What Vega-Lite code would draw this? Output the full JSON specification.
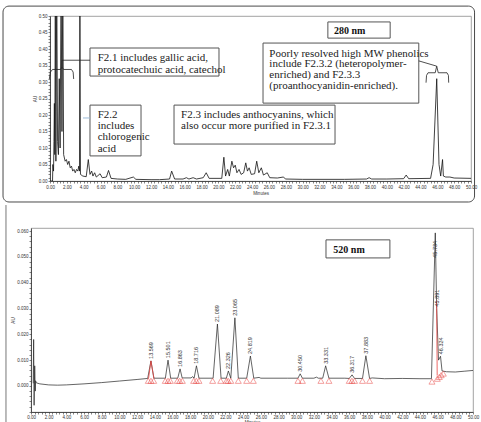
{
  "$schema": "https://vega.github.io/schema/vega-lite/v6.json",
  "padding": {"left": 2, "top": 5, "right": 0, "bottom": 0},
  "spacing": 1,
  "background": "white",
  "config": {
    "view": {"stroke": "#8c8c8c", "strokeWidth": 0.8},
    "axis": {
      "labelFont": "Liberation Sans", "labelFontSize": 4.5, "labelColor": "#333",
      "tickColor": "#333", "tickSize": 2, "tickWidth": 0.6,
      "domainColor": "#333", "domainWidth": 0.8, "grid": false,
      "titleFont": "Liberation Sans", "titleFontSize": 4.5, "titleFontWeight": "normal", "titleColor": "#333",
      "labelPadding": 1, "zindex": 1, "labelOverlap": false, "labelFlush": false
    }
  },
  "datasets": {
    "top": [
      {"t":0,"v":0},{"t":0.3,"v":0},{"t":0.34,"v":0.05},{"t":0.42,"v":0.03},{"t":0.47,"v":0.12},{"t":0.52,"v":0.235},{"t":0.57,"v":0.08},{"t":0.63,"v":0.6},{"t":0.7,"v":0.06},{"t":0.8,"v":0.6},{"t":0.9,"v":0.12},{"t":1.0,"v":0.08},{"t":1.1,"v":0.31},{"t":1.2,"v":0.1},{"t":1.32,"v":0.6},{"t":1.42,"v":0.15},{"t":1.52,"v":0.6},{"t":1.62,"v":0.08},{"t":1.8,"v":0.06},{"t":1.95,"v":0.065},{"t":2.1,"v":0.05},{"t":2.25,"v":0.06},{"t":2.4,"v":0.04},{"t":2.55,"v":0.045},{"t":2.7,"v":0.03},{"t":2.85,"v":0.035},{"t":3.0,"v":0.025},{"t":3.15,"v":0.035},{"t":3.3,"v":0.03},{"t":3.42,"v":0.045},{"t":3.5,"v":0.03},{"t":3.55,"v":0.6},{"t":3.62,"v":0.02},{"t":3.9,"v":0.015},{"t":4.3,"v":0.013},{"t":4.55,"v":0.065},{"t":4.75,"v":0.02},{"t":4.95,"v":0.03},{"t":5.1,"v":0.015},{"t":5.3,"v":0.025},{"t":5.5,"v":0.012},{"t":5.95,"v":0.022},{"t":6.2,"v":0.01},{"t":6.7,"v":0.012},{"t":6.95,"v":0.032},{"t":7.25,"v":0.008},{"t":8,"v":0.006},{"t":9,"v":0.005},{"t":9.9,"v":0.012},{"t":10.2,"v":0.005},{"t":12,"v":0.004},{"t":13,"v":0.004},{"t":14.2,"v":0.006},{"t":14.45,"v":0.03},{"t":14.8,"v":0.006},{"t":15.8,"v":0.006},{"t":16.2,"v":0.01},{"t":16.5,"v":0.006},{"t":17,"v":0.01},{"t":17.4,"v":0.006},{"t":18.2,"v":0.01},{"t":18.55,"v":0.025},{"t":18.9,"v":0.008},{"t":20.4,"v":0.008},{"t":20.65,"v":0.072},{"t":20.85,"v":0.015},{"t":21.1,"v":0.035},{"t":21.3,"v":0.015},{"t":21.6,"v":0.06},{"t":21.8,"v":0.04},{"t":22,"v":0.048},{"t":22.2,"v":0.025},{"t":22.45,"v":0.035},{"t":22.7,"v":0.02},{"t":23,"v":0.025},{"t":23.25,"v":0.055},{"t":23.45,"v":0.03},{"t":23.65,"v":0.04},{"t":23.9,"v":0.02},{"t":24.3,"v":0.022},{"t":24.55,"v":0.06},{"t":24.8,"v":0.025},{"t":25.1,"v":0.04},{"t":25.35,"v":0.018},{"t":25.8,"v":0.025},{"t":26.1,"v":0.01},{"t":27,"v":0.009},{"t":27.7,"v":0.012},{"t":28,"v":0.006},{"t":30,"v":0.005},{"t":35,"v":0.005},{"t":37.6,"v":0.006},{"t":37.9,"v":0.01},{"t":38.2,"v":0.006},{"t":40,"v":0.006},{"t":42,"v":0.007},{"t":42.3,"v":0.018},{"t":42.6,"v":0.007},{"t":45.2,"v":0.008},{"t":45.5,"v":0.05},{"t":45.93,"v":0.31},{"t":46.2,"v":0.05},{"t":46.4,"v":0.015},{"t":46.62,"v":0.065},{"t":46.72,"v":0.015},{"t":47,"v":0.012},{"t":47.5,"v":0.012},{"t":48,"v":0.009},{"t":50,"v":0.008}
    ],
    "topFrame": [{"t":-5.58,"t2":50.42,"v":0.530,"v2":-0.0636}],
    "topBoxes": [
      {"t":4.75,"t2":20.07,"v":0.403,"v2":0.318},
      {"t":4.75,"t2":10.81,"v":0.230,"v2":0.076},
      {"t":14.73,"t2":33.85,"v":0.230,"v2":0.112},
      {"t":33.0,"t2":40.4,"v":0.482,"v2":0.433},
      {"t":25.3,"t2":43.8,"v":0.418,"v2":0.236}
    ],
    "topTexts": [
      {"t":5.66,"v":0.365,"txt":"F2.1 includes gallic acid,\nprotocatechuic acid, catechol","g":"a"},
      {"t":5.66,"v":0.192,"txt":"F2.2\nincludes\nchlorogenic\nacid","g":"b"},
      {"t":15.56,"v":0.191,"txt":"F2.3 includes anthocyanins, which\nalso occur more purified in F2.3.1","g":"b"},
      {"t":26.05,"v":0.377,"txt":"Poorly resolved high MW phenolics\ninclude F2.3.2 (heteropolymer-\nenriched) and F2.3.3\n(proanthocyanidin-enriched).","g":"c"},
      {"t":33.73,"v":0.445,"txt":"280 nm","g":"d"}
    ],
    "braces": [
      {"t":-0.08,"v":0.309,"id":"b1","o":0},{"t":0.05,"v":0.330,"id":"b1","o":1},{"t":0.3,"v":0.338,"id":"b1","o":2},{"t":1.25,"v":0.338,"id":"b1","o":3},{"t":1.43,"v":0.345,"id":"b1","o":4},{"t":1.61,"v":0.338,"id":"b1","o":5},{"t":2.55,"v":0.338,"id":"b1","o":6},{"t":2.75,"v":0.330,"id":"b1","o":7},{"t":2.81,"v":0.309,"id":"b1","o":8},
      {"t":1.43,"v":0.345,"id":"c1","o":0},{"t":1.43,"v":0.366,"id":"c1","o":1},{"t":4.75,"v":0.366,"id":"c1","o":2},
      {"t":44.66,"v":0.298,"id":"b2","o":0},{"t":44.72,"v":0.320,"id":"b2","o":1},{"t":44.9,"v":0.328,"id":"b2","o":2},{"t":45.75,"v":0.328,"id":"b2","o":3},{"t":45.93,"v":0.348,"id":"b2","o":4},{"t":46.11,"v":0.328,"id":"b2","o":5},{"t":47.15,"v":0.328,"id":"b2","o":6},{"t":47.32,"v":0.320,"id":"b2","o":7},{"t":47.35,"v":0.298,"id":"b2","o":8},
      {"t":45.93,"v":0.348,"id":"c2","o":0},{"t":43.8,"v":0.364,"id":"c2","o":1}
    ],
    "blueLine": [{"t":3.92,"v":0.191},{"t":4.75,"v":0.191}],
    "bot": [
      {"t":0.25,"v":0.001},{"t":0.3,"v":0.018},{"t":0.35,"v":-0.0075},{"t":0.42,"v":0.0078},{"t":0.48,"v":-0.002},{"t":0.52,"v":0.002},{"t":0.6,"v":0.0012},{"t":1.0,"v":0.0008},{"t":2.0,"v":0.0004},{"t":3.0,"v":0.0003},{"t":4.0,"v":0.0004},{"t":6.0,"v":0.0008},{"t":8.0,"v":0.0013},{"t":10.0,"v":0.0019},{"t":12.0,"v":0.0025},{"t":13.2,"v":0.0029},{"t":13.569,"v":0.0097},{"t":13.9,"v":0.003},{"t":15.2,"v":0.003},{"t":15.501,"v":0.0100},{"t":15.8,"v":0.003},{"t":16.6,"v":0.003},{"t":16.863,"v":0.0066},{"t":17.1,"v":0.0031},{"t":18.1,"v":0.0031},{"t":18.3,"v":0.0036},{"t":18.45,"v":0.003},{"t":18.716,"v":0.0078},{"t":19.0,"v":0.003},{"t":20.6,"v":0.003},{"t":21.089,"v":0.024},{"t":21.5,"v":0.003},{"t":22.1,"v":0.003},{"t":22.326,"v":0.0058},{"t":22.6,"v":0.003},{"t":23.065,"v":0.0264},{"t":23.45,"v":0.003},{"t":24.4,"v":0.003},{"t":24.819,"v":0.0116},{"t":25.2,"v":0.003},{"t":25.8,"v":0.0033},{"t":26.0,"v":0.003},{"t":29.0,"v":0.003},{"t":30.2,"v":0.003},{"t":30.45,"v":0.0047},{"t":30.7,"v":0.003},{"t":32.0,"v":0.003},{"t":32.3,"v":0.0034},{"t":32.5,"v":0.003},{"t":33.0,"v":0.003},{"t":33.331,"v":0.0078},{"t":33.7,"v":0.003},{"t":35.5,"v":0.003},{"t":36.0,"v":0.0029},{"t":36.317,"v":0.0043},{"t":36.6,"v":0.0029},{"t":37.5,"v":0.0029},{"t":37.883,"v":0.0117},{"t":38.3,"v":0.0029},{"t":38.6,"v":0.0031},{"t":40.0,"v":0.0028},{"t":42.0,"v":0.0029},{"t":44.0,"v":0.0028},{"t":45.3,"v":0.0028},{"t":45.734,"v":0.0593},{"t":45.891,"v":0.030},{"t":46.1,"v":0.010},{"t":46.324,"v":0.0115},{"t":46.5,"v":0.0058},{"t":47.0,"v":0.0055},{"t":48.0,"v":0.0054},{"t":49.0,"v":0.0057},{"t":50.0,"v":0.006}
    ],
    "botRed": [
      {"t":13.3,"v":0.0029,"s":"a"},{"t":13.569,"v":0.0097,"s":"a"},{"t":13.9,"v":0.003,"s":"a"},
      {"t":45.86,"v":0.033,"s":"b"},{"t":45.891,"v":0.030,"s":"b"},{"t":45.95,"v":0.004,"s":"b"}
    ],
    "tri": [
      {"t":13.27,"v":0.002},{"t":13.57,"v":0.002},{"t":13.88,"v":0.002},{"t":15.19,"v":0.002},{"t":15.5,"v":0.002},{"t":15.76,"v":0.002},{"t":16.55,"v":0.002},{"t":16.82,"v":0.002},{"t":17.12,"v":0.002},{"t":18.4,"v":0.002},{"t":18.7,"v":0.002},{"t":19.0,"v":0.002},{"t":20.55,"v":0.002},{"t":21.46,"v":0.002},{"t":22.1,"v":0.002},{"t":22.3,"v":0.002},{"t":22.6,"v":0.002},{"t":23.45,"v":0.002},{"t":24.4,"v":0.002},{"t":25.15,"v":0.002},{"t":30.2,"v":0.002},{"t":30.7,"v":0.002},{"t":32.8,"v":0.002},{"t":33.7,"v":0.002},{"t":36.0,"v":0.002},{"t":36.3,"v":0.002},{"t":36.6,"v":0.002},{"t":37.5,"v":0.002},{"t":38.3,"v":0.002},{"t":45.36,"v":0.0017},{"t":45.96,"v":0.0028},{"t":46.19,"v":0.0035},{"t":46.4,"v":0.0042},{"t":46.64,"v":0.0048}
    ],
    "peaks": [
      {"t":13.569,"v":0.0097},{"t":15.501,"v":0.0100},{"t":16.863,"v":0.0066},{"t":18.716,"v":0.0078},{"t":21.089,"v":0.024},{"t":22.326,"v":0.0058},{"t":23.065,"v":0.0264},{"t":24.819,"v":0.0116},{"t":30.45,"v":0.0047},{"t":33.331,"v":0.0078},{"t":36.317,"v":0.0043},{"t":37.883,"v":0.0117},{"t":45.734,"v":0.0593},{"t":45.891,"v":0.030},{"t":46.324,"v":0.0115}
    ],
    "botFrame": [{"t":-2.83,"v":0.0701,"v2":-0.0151}],
    "botBox": [{"t":33.37,"t2":40.6,"v":0.0566,"v2":0.0496}],
    "botText": [{"t":34.2,"v":0.0517,"txt":"520 nm"}]
  },
  "vconcat": [
    {
      "spacing": -33,
      "hconcat": [
        {
          "width": 1, "height": 1,
          "view": {"stroke": null},
          "data": {"values": [{"a": 1}]},
          "mark": {"type": "point", "opacity": 0},
          "encoding": {}
        },
        {
          "width": 421, "height": 165,
          "encoding": {
            "x": {"field": "t", "type": "quantitative",
              "scale": {"domain": [0, 50], "nice": false, "zero": false},
              "axis": {"title": "Minutes", "titlePadding": 2,
                "values": [0,0.4,0.8,1.2,1.6,2,2.4,2.8,3.2,3.6,4,4.4,4.8,5.2,5.6,6,6.4,6.8,7.2,7.6,8,8.4,8.8,9.2,9.6,10,10.4,10.8,11.2,11.6,12,12.4,12.8,13.2,13.6,14,14.4,14.8,15.2,15.6,16,16.4,16.8,17.2,17.6,18,18.4,18.8,19.2,19.6,20,20.4,20.8,21.2,21.6,22,22.4,22.8,23.2,23.6,24,24.4,24.8,25.2,25.6,26,26.4,26.8,27.2,27.6,28,28.4,28.8,29.2,29.6,30,30.4,30.8,31.2,31.6,32,32.4,32.8,33.2,33.6,34,34.4,34.8,35.2,35.6,36,36.4,36.8,37.2,37.6,38,38.4,38.8,39.2,39.6,40,40.4,40.8,41.2,41.6,42,42.4,42.8,43.2,43.6,44,44.4,44.8,45.2,45.6,46,46.4,46.8,47.2,47.6,48,48.4,48.8,49.2,49.6,50],
                "labelExpr": "abs(datum.value/2-round(datum.value/2))<0.001 ? format(datum.value,'.2f') : ''"}},
            "y": {"field": "v", "type": "quantitative",
              "scale": {"domain": [0, 0.5], "nice": false, "zero": false},
              "axis": {"title": "AU", "titlePadding": 1,
                "values": [0,0.01,0.02,0.03,0.04,0.05,0.06,0.07,0.08,0.09,0.1,0.11,0.12,0.13,0.14,0.15,0.16,0.17,0.18,0.19,0.2,0.21,0.22,0.23,0.24,0.25,0.26,0.27,0.28,0.29,0.3,0.31,0.32,0.33,0.34,0.35,0.36,0.37,0.38,0.39,0.4,0.41,0.42,0.43,0.44,0.45,0.46,0.47,0.48,0.49,0.5],
                "labelExpr": "abs(datum.value/0.05-round(datum.value/0.05))<0.01 ? format(datum.value,'.2f') : ''"}}
          },
          "layer": [
            {
              "data": {"name": "topFrame"},
              "mark": {"type": "rect", "fill": null, "fillOpacity": 0, "stroke": "#4a4a4a", "strokeWidth": 1, "cornerRadius": 6, "clip": false},
              "encoding": {"x2": {"field": "t2"}, "y2": {"field": "v2"}}
            },
            {
              "data": {"name": "top"},
              "mark": {"type": "line", "color": "#111", "strokeWidth": 0.8, "clip": true}
            },
            {
              "data": {"name": "topBoxes"},
              "mark": {"type": "rect", "fill": "white", "stroke": "#555", "strokeWidth": 1},
              "encoding": {"x2": {"field": "t2"}, "y2": {"field": "v2"}}
            },
            {
              "data": {"name": "topTexts"},
              "transform": [{"filter": "datum.g === 'a'"}],
              "mark": {"type": "text", "font": "Liberation Serif", "fontSize": 11, "align": "left", "baseline": "alphabetic", "lineBreak": "\n", "lineHeight": 12.3, "color": "#222"},
              "encoding": {"text": {"field": "txt"}}
            },
            {
              "data": {"name": "topTexts"},
              "transform": [{"filter": "datum.g === 'b'"}],
              "mark": {"type": "text", "font": "Liberation Serif", "fontSize": 11, "align": "left", "baseline": "alphabetic", "lineBreak": "\n", "lineHeight": 11.3, "color": "#222"},
              "encoding": {"text": {"field": "txt"}}
            },
            {
              "data": {"name": "topTexts"},
              "transform": [{"filter": "datum.g === 'c'"}],
              "mark": {"type": "text", "font": "Liberation Serif", "fontSize": 11, "align": "left", "baseline": "alphabetic", "lineBreak": "\n", "lineHeight": 10.7, "color": "#222"},
              "encoding": {"text": {"field": "txt"}}
            },
            {
              "data": {"name": "topTexts"},
              "transform": [{"filter": "datum.g === 'd'"}],
              "mark": {"type": "text", "font": "Liberation Serif", "fontSize": 10, "fontWeight": "bold", "align": "left", "baseline": "alphabetic", "color": "#111"},
              "encoding": {"text": {"field": "txt"}}
            },
            {
              "data": {"name": "braces"},
              "mark": {"type": "line", "color": "#222", "strokeWidth": 0.8, "clip": false},
              "encoding": {"detail": {"field": "id"}, "order": {"field": "o"}}
            },
            {
              "data": {"name": "blueLine"},
              "mark": {"type": "line", "color": "#9bbbd9", "strokeWidth": 1, "clip": false},
              "encoding": {}
            }
          ]
        }
      ]
    },
    {
      "width": 442, "height": 184,
      "encoding": {
        "x": {"field": "t", "type": "quantitative",
          "scale": {"domain": [0, 50], "nice": false, "zero": false},
          "axis": {"title": "Minutes", "titlePadding": 0, "labelPadding": 0.5,
            "values": [0,0.4,0.8,1.2,1.6,2,2.4,2.8,3.2,3.6,4,4.4,4.8,5.2,5.6,6,6.4,6.8,7.2,7.6,8,8.4,8.8,9.2,9.6,10,10.4,10.8,11.2,11.6,12,12.4,12.8,13.2,13.6,14,14.4,14.8,15.2,15.6,16,16.4,16.8,17.2,17.6,18,18.4,18.8,19.2,19.6,20,20.4,20.8,21.2,21.6,22,22.4,22.8,23.2,23.6,24,24.4,24.8,25.2,25.6,26,26.4,26.8,27.2,27.6,28,28.4,28.8,29.2,29.6,30,30.4,30.8,31.2,31.6,32,32.4,32.8,33.2,33.6,34,34.4,34.8,35.2,35.6,36,36.4,36.8,37.2,37.6,38,38.4,38.8,39.2,39.6,40,40.4,40.8,41.2,41.6,42,42.4,42.8,43.2,43.6,44,44.4,44.8,45.2,45.6,46,46.4,46.8,47.2,47.6,48,48.4,48.8,49.2,49.6,50],
            "labelExpr": "abs(datum.value/2-round(datum.value/2))<0.001 ? format(datum.value,'.2f') : ''"}},
        "y": {"field": "v", "type": "quantitative",
          "scale": {"domain": [-0.0101, 0.0612], "nice": false, "zero": false},
          "axis": {"title": "AU", "titlePadding": 1,
            "values": [-0.01,-0.008,-0.006,-0.004,-0.002,0,0.002,0.004,0.006,0.008,0.01,0.012,0.014,0.016,0.018,0.02,0.022,0.024,0.026,0.028,0.03,0.032,0.034,0.036,0.038,0.04,0.042,0.044,0.046,0.048,0.05,0.052,0.054,0.056,0.058,0.06],
            "labelExpr": "datum.value > -0.0001 && abs(datum.value/0.01-round(datum.value/0.01))<0.01 ? format(datum.value,'.3f') : ''"}}
      },
      "layer": [
        {
          "data": {"name": "botFrame"},
          "mark": {"type": "rule", "color": "#777", "strokeWidth": 1, "clip": false},
          "encoding": {"y2": {"field": "v2"}}
        },
        {
          "data": {"name": "bot"},
          "mark": {"type": "line", "color": "#222", "strokeWidth": 0.7, "clip": true}
        },
        {
          "data": {"name": "botRed"},
          "mark": {"type": "line", "color": "#e8423f", "strokeWidth": 0.8},
          "encoding": {"detail": {"field": "s"}}
        },
        {
          "data": {"name": "tri"},
          "mark": {"type": "point", "shape": "triangle-up", "filled": false, "size": 36, "color": "#e8423f", "strokeWidth": 0.7}
        },
        {
          "data": {"name": "peaks"},
          "transform": [{"filter": "datum.t < 45.7 || datum.t > 45.8"}],
          "mark": {"type": "text", "angle": 270, "align": "left", "baseline": "middle", "dx": 2, "font": "Liberation Sans", "fontSize": 5.5, "color": "#333"},
          "encoding": {"text": {"field": "t", "type": "quantitative", "format": ".3f"}}
        },
        {
          "data": {"name": "peaks"},
          "transform": [{"filter": "datum.t > 45.7 && datum.t < 45.8"}],
          "mark": {"type": "text", "angle": 270, "align": "right", "baseline": "middle", "dx": -8, "font": "Liberation Sans", "fontSize": 5.5, "color": "#333"},
          "encoding": {"text": {"field": "t", "type": "quantitative", "format": ".3f"}}
        },
        {
          "data": {"name": "botBox"},
          "mark": {"type": "rect", "fill": "white", "stroke": "#555", "strokeWidth": 1},
          "encoding": {"x2": {"field": "t2"}, "y2": {"field": "v2"}}
        },
        {
          "data": {"name": "botText"},
          "mark": {"type": "text", "font": "Liberation Serif", "fontSize": 10, "fontWeight": "bold", "align": "left", "baseline": "alphabetic", "color": "#111"},
          "encoding": {"text": {"field": "txt"}}
        }
      ]
    }
  ]
}
